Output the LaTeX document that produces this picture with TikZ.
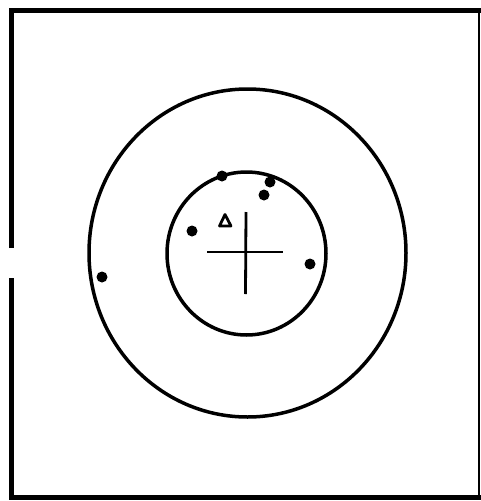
\documentclass[tikz,border=0pt]{standalone}
\begin{document}
\begin{tikzpicture}[x=1pt,y=-1pt,
  frameline/.style={line width=5pt,line cap=butt},
  ring/.style={line width=3.5pt},
  crossline/.style={line width=2.8pt},
  dot/.style={fill=black}]
\useasboundingbox (0,0) rectangle (481,501);
% frame
\draw[frameline] (11,248) -- (11,10) -- (481,10);
\draw[frameline] (11,278) -- (11,497) -- (481,497);
\draw[line width=1.5pt] (479,10) -- (479,497);
% rings
\draw[ring] (247.5,253) ellipse [x radius=158.5, y radius=164];
\draw[ring] (246.5,253.5) ellipse [x radius=79.5, y radius=81.5];
% cross
\draw[crossline] (207,252) -- (283,252);
\draw[crossline] (246,212) -- (245.5,294);
% dots
\fill[dot] (102,277) circle [radius=5.5];
\fill[dot] (192,231) circle [radius=5.5];
\fill[dot] (222,176) circle [radius=5.5];
\fill[dot] (270,182) circle [radius=5.5];
\fill[dot] (264,195) circle [radius=5.5];
\fill[dot] (310,264) circle [radius=5.5];
% triangle
\draw[line width=2.8pt,line join=round] (219.5,226) -- (231,226) -- (225,214.5) -- cycle;
\end{tikzpicture}
\end{document}
